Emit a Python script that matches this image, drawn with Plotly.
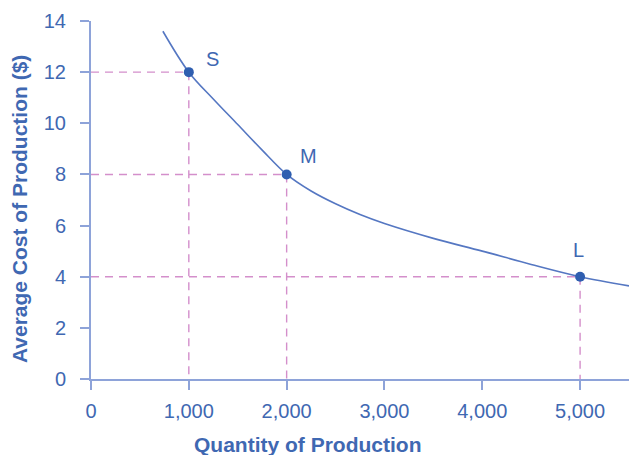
import plotly.graph_objects as go

# Average cost curve
curve_q = [735, 1000, 1250, 1500, 1750, 2000, 2250, 2500, 2750, 3000, 3500, 4000, 4500, 5000, 5500]
curve_ac = [13.6, 12.0, 10.95, 9.95, 8.95, 8.0, 7.35, 6.85, 6.43, 6.08, 5.5, 5.0, 4.48, 4.0, 3.64]

# Highlighted points
point_labels = ["S", "M", "L"]
point_q = [1000, 2000, 5000]
point_ac = [12, 8, 4]

x_ticks = [0, 1000, 2000, 3000, 4000, 5000]
x_tick_text = ["0", "1,000", "2,000", "3,000", "4,000", "5,000"]
y_ticks = [0, 2, 4, 6, 8, 10, 12, 14]

TEXT = "#3f68b2"
AXIS = "#8ea3d9"
LINE = "#5577c2"
DOT = "#2f5eb0"
DASH = "#d48fcb"
FONT = "Liberation Sans, Arial, sans-serif"

fig = go.Figure()

# dashed guide lines
hx, hy, vx, vy = [], [], [], []
for q, c in zip(point_q, point_ac):
    hx += [0, q, None]
    hy += [c, c, None]
    vx += [q, q, None]
    vy += [c, 0, None]
fig.add_trace(go.Scatter(x=hx, y=hy, mode="lines", line=dict(color=DASH, width=1.4, dash="8px,6px"),
                         hoverinfo="skip", showlegend=False))
fig.add_trace(go.Scatter(x=vx, y=vy, mode="lines", line=dict(color=DASH, width=1.4, dash="8px,6px"),
                         hoverinfo="skip", showlegend=False))

fig.add_trace(go.Scatter(x=curve_q, y=curve_ac, mode="lines",
                         line=dict(color=LINE, width=1.6, shape="spline", smoothing=1.0),
                         showlegend=False))
fig.add_trace(go.Scatter(x=point_q, y=point_ac, mode="markers",
                         marker=dict(color=DOT, size=10), showlegend=False))

label_dx = [244, 219, -20]
label_dy = [0.53, 0.72, 1.03]
for lab, q, c, dx, dy in zip(point_labels, point_q, point_ac, label_dx, label_dy):
    fig.add_annotation(x=q + dx, y=c + dy, text=lab, showarrow=False,
                       font=dict(family=FONT, size=20, color=TEXT))

fig.add_annotation(text="<b>Quantity of Production</b>", xref="paper", yref="paper",
                   x=0.4015, y=-0.182, xanchor="center", yanchor="middle", showarrow=False,
                   font=dict(family=FONT, size=21, color=TEXT))
fig.add_annotation(text="<b>Average Cost of Production ($)</b>", xref="paper", yref="paper",
                   x=-0.1329, y=0.476, xanchor="center", yanchor="middle", textangle=-90,
                   showarrow=False, font=dict(family=FONT, size=21, color=TEXT))

fig.update_xaxes(range=[0, 5500], tickvals=x_ticks, ticktext=x_tick_text, showgrid=False, zeroline=False,
                 showline=True, linecolor=AXIS, linewidth=2, ticks="outside", ticklen=9, tickwidth=2,
                 tickcolor=AXIS, tickfont=dict(family=FONT, size=20, color=TEXT), ticklabelstandoff=4)
fig.update_yaxes(range=[0, 14], tickvals=y_ticks, showgrid=False, zeroline=False,
                 showline=True, linecolor=AXIS, linewidth=2, ticks="outside", ticklen=9, tickwidth=2,
                 tickcolor=AXIS, tickfont=dict(family=FONT, size=20, color=TEXT), ticklabelstandoff=10)

fig.update_layout(width=629, height=455, margin=dict(l=91, r=0, t=21, b=76),
                  plot_bgcolor="white", paper_bgcolor="white", showlegend=False)

# remove the default page margin so the figure sits at the window's top-left corner
fig.write_html("out.html", config={"displayModeBar": False},
               post_script="document.body.style.margin='0';document.body.style.overflow='hidden';")
